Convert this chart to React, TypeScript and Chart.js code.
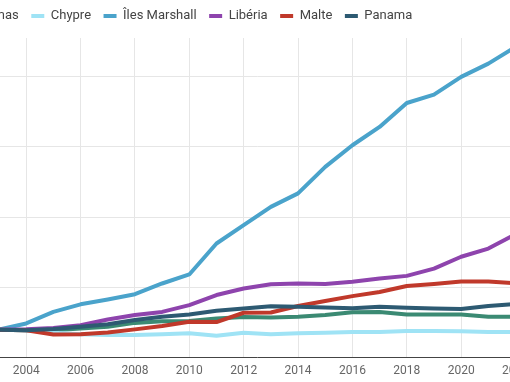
import React, { useEffect, useRef } from "react";
import { Chart, registerables } from "chart.js";

Chart.register(...registerables);

const years = [2003, 2004, 2005, 2006, 2007, 2008, 2009, 2010, 2011, 2012, 2013, 2014, 2015, 2016, 2017, 2018, 2019, 2020, 2021, 2022];

const bahamas = [100, 98, 98, 104, 110, 124, 130, 131, 140, 145, 143, 146, 152, 162, 163, 154, 154, 154, 146, 146];
const chypre = [100, 98, 89, 84, 81, 81, 84, 87, 78, 89, 84, 87, 89, 92, 92, 95, 95, 94, 92, 92];
const ilesMarshall = [100, 122, 163, 190, 207, 226, 264, 296, 406, 471, 536, 584, 678, 755, 820, 905, 935, 998, 1045, 1104];
const liberia = [100, 101, 106, 116, 136, 152, 163, 187, 223, 246, 261, 264, 262, 270, 282, 291, 317, 359, 388, 439];
const malte = [100, 98, 83, 84, 90, 101, 113, 128, 127, 160, 161, 184, 202, 219, 234, 255, 262, 271, 271, 265];
const panama = [100, 98, 102, 110, 119, 134, 146, 154, 167, 175, 183, 181, 179, 176, 181, 178, 175, 173, 184, 191];

const seriesLabels = ["Bahamas", "Chypre", "Îles Marshall", "Libéria", "Malte", "Panama"];
const seriesValues = [bahamas, chypre, ilesMarshall, liberia, malte, panama];
const seriesColors = ["#3b8a73", "#9fe3f5", "#4aa3cb", "#8e44ad", "#c0392b", "#2d5a72"];

const xTickYears = [2004, 2006, 2008, 2010, 2012, 2014, 2016, 2018, 2020, 2022];
const yTickValues = [0, 250, 500, 750, 1000];
const yMin = 0;
const yMax = 1136;

// The reference is a crop of a wider chart: the canvas is shifted left.
const CROP_LEFT = 178;
const CANVAS_W = 713;
const CANVAS_H = 382;
const Y_AXIS_W = 177;
const LEGEND_EXTRA = 5.5;

export default function App() {
  const ref = useRef<HTMLCanvasElement>(null);

  useEffect(() => {
    const n = seriesValues.length;
    const chart = new Chart(ref.current as HTMLCanvasElement, {
      type: "line",
      data: {
        datasets: seriesLabels.map((label, i) => ({
          label,
          data: years.map((yr, j) => ({ x: yr, y: seriesValues[i][j] })),
          borderColor: seriesColors[i],
          backgroundColor: seriesColors[i],
          borderWidth: 4,
          pointRadius: 0,
          pointHoverRadius: 0,
          borderCapStyle: "round",
          borderJoinStyle: "round",
          tension: 0,
          fill: false,
          order: n - 1 - i,
        })),
      },
      options: {
        responsive: false,
        animation: false,
        events: [],
        layout: { padding: { top: -3, right: 0, bottom: -2.2, left: 0 } },
        plugins: {
          tooltip: { enabled: false },
          legend: {
            position: "top",
            align: "center",
            labels: {
              usePointStyle: true,
              pointStyle: "line",
              pointStyleWidth: 13,
              padding: 12.5,
              color: "#444",
              font: { family: "Roboto", size: 13 },
              sort: (a: any, b: any) => a.datasetIndex - b.datasetIndex,
            },
          },
        },
        scales: {
          x: {
            type: "linear",
            min: years[0],
            max: years[years.length - 1],
            afterBuildTicks: (s: any) => {
              s.ticks = xTickYears.map((v) => ({ value: v }));
            },
            ticks: {
              callback: (v: any) => String(v),
              color: "#666",
              font: { family: "Roboto", size: 12 },
              padding: 6,
              maxRotation: 0,
              autoSkip: false,
            },
            grid: { color: "#e6e6e6", drawTicks: false },
            border: { color: "#444", width: 1 },
          },
          y: {
            min: yMin,
            max: yMax,
            afterBuildTicks: (s: any) => {
              s.ticks = yTickValues.map((v) => ({ value: v }));
            },
            afterFit: (s: any) => {
              s.width = Y_AXIS_W;
            },
            ticks: { display: false },
            grid: { color: "#e6e6e6", drawTicks: false },
            border: { display: false },
          },
        },
      },
      plugins: [
        {
          id: "legendGap",
          afterInit(c: any) {
            const lg = c.legend;
            if (lg && !lg.__patched) {
              const f = lg.fit.bind(lg);
              lg.fit = () => {
                f();
                lg.height += LEGEND_EXTRA;
              };
              lg.__patched = true;
            }
          },
        },
      ],
    } as any);
    return () => chart.destroy();
  }, []);

  return (
    <div style={{ position: "fixed", left: 0, top: 0, width: 510, height: 382, overflow: "hidden", background: "#fff" }}>
      <div style={{ position: "absolute", left: -CROP_LEFT, top: 0, width: CANVAS_W, height: CANVAS_H }}>
        <canvas ref={ref} width={CANVAS_W} height={CANVAS_H} style={{ display: "block" }} />
      </div>
    </div>
  );
}
